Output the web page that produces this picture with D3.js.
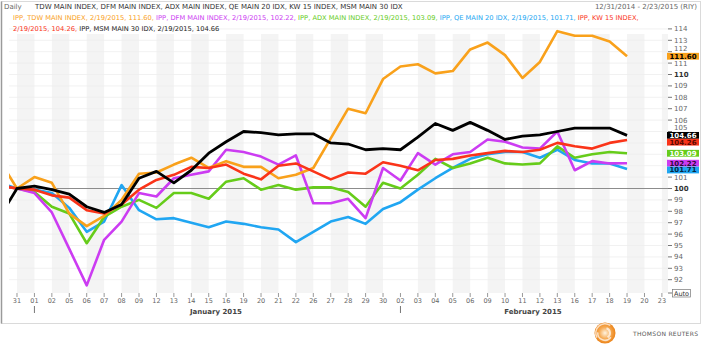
<!DOCTYPE html>
<html>
<head>
<meta charset="utf-8">
<script src="https://cdn.jsdelivr.net/npm/d3@7"></script>
<style>
  body { margin: 0; background: #fff; }
  svg { display: block; font-family: "DejaVu Sans", Verdana, sans-serif; }
</style>
</head>
<body>
<div id="chart"></div>
<script>
// Data: trading days (first one sits just left of the plot), index values rebased to 31 Dec = 100
const dates = ["2014-12-30", "2014-12-31",
    "2015-01-01", "2015-01-02", "2015-01-05", "2015-01-06", "2015-01-07", "2015-01-08", "2015-01-09",
    "2015-01-12", "2015-01-13", "2015-01-14", "2015-01-15", "2015-01-16", "2015-01-19", "2015-01-20",
    "2015-01-21", "2015-01-22", "2015-01-26", "2015-01-27", "2015-01-28", "2015-01-29", "2015-01-30",
    "2015-02-02", "2015-02-03", "2015-02-04", "2015-02-05", "2015-02-06", "2015-02-09", "2015-02-10",
    "2015-02-11", "2015-02-12", "2015-02-13", "2015-02-16", "2015-02-17", "2015-02-18", "2015-02-19",
    "2015-02-20", "2015-02-23"];

const tdw = [102.5, 100, 101.0, 100.5, 97.8, 96.7, 97.6, 99.0, 101.3, 101.4, 102.1, 102.7, 101.8, 102.4,
    101.9, 101.9, 100.9, 101.2, 101.8, 104.4, 107.0, 106.6, 109.6, 110.7, 110.9, 110.1, 110.3, 112.2,
    112.8, 111.7, 109.7, 111.1, 113.8, 113.4, 113.4, 112.9, 111.60];
const dfm = [100.25, 100, 99.6, 97.9, 94.7, 91.5, 95.5, 97.1, 99.6, 99.3, 100.9, 101.2, 101.5, 103.4,
    103.2, 102.8, 102.1, 102.9, 98.7, 98.7, 99.1, 97.4, 101.8, 100.7, 103.1, 102.1, 103.0, 103.2,
    104.3, 104.1, 103.6, 103.5, 105.0, 101.6, 102.4, 102.2, 102.22];
const adx = [100.25, 100, 99.7, 98.4, 97.8, 95.2, 97.5, 98.4, 99.0, 98.3, 99.6, 99.6, 99.1, 100.6,
    100.9, 99.9, 100.3, 99.9, 100.1, 100.1, 99.7, 98.4, 100.5, 100.0, 101.2, 102.6, 101.8, 102.2,
    102.7, 102.2, 102.1, 102.2, 103.7, 102.7, 103.0, 103.2, 103.09];
const qe = [100.5, 100, 99.9, 99.6, 98.3, 96.2, 97.1, 100.3, 98.1, 97.3, 97.4, 97.0, 96.6, 97.1,
    96.9, 96.6, 96.4, 95.3, 96.2, 97.1, 97.5, 96.9, 98.2, 98.8, 99.9, 100.9, 101.8, 102.6,
    103.0, 103.2, 103.2, 102.7, 103.4, 102.5, 102.2, 102.2, 101.71];
const kw = [100.25, 100, 99.9, 99.4, 99.2, 98.1, 97.8, 98.6, 99.9, 100.75, 101.2, 101.9, 101.8, 102.1,
    101.3, 100.8, 102.0, 102.2, 101.5, 100.8, 101.4, 101.3, 102.3, 102.0, 101.6, 102.5, 102.6, 102.9,
    103.1, 103.3, 103.2, 103.4, 104.0, 103.7, 103.5, 104.0, 104.26];
const msm = [97.5, 100, 100.2, 99.9, 99.5, 98.4, 97.9, 98.6, 100.9, 101.5, 100.5, 101.6, 103.1, 104.1,
    105.0, 104.9, 104.7, 104.8, 104.8, 104.0, 103.9, 103.4, 103.5, 103.4, 104.5, 105.7, 105.1, 105.8,
    105.1, 104.3, 104.6, 104.7, 105.0, 105.3, 105.3, 105.3, 104.66];

const seriesNames = ["QE MAIN 20 IDX", "ADX MAIN INDEX", "DFM MAIN INDEX", "TDW MAIN INDEX", "KW 15 INDEX", "MSM MAIN 30 IDX"];
const seriesValues = [qe, adx, dfm, tdw, kw, msm];
const seriesColors = ["#20a6f2", "#66cc1a", "#cc3cf2", "#f9a11b", "#fa3419", "#000000"];
const labelTextColors = ["#06263f", "#ffffff", "#2e0a3c", "#000000", "#5a0a00", "#ffffff"];

const yTicks = d3.range(92, 115);
const boldTicks = [100, 110];
const months = [{ key: "2015-01", label: "January 2015" }, { key: "2015-02", label: "February 2015" }];
const headerTitle = "TDW MAIN INDEX, DFM MAIN INDEX, ADX MAIN INDEX, QE MAIN 20 IDX, KW 15 INDEX, MSM MAIN 30 IDX";
const headerRange = "12/31/2014 - 2/23/2015 (RIY)";
const lastDate = "2/19/2015";

// Dimensions
const dimensions = {
    width: 702,
    height: 351,
    plotLeft: 9,
    plotRight: 668,
    plotTop: 34,
    plotBottom: 293,
};

const svg = d3.select('#chart')
    .append('svg')
    .attr('width', dimensions.width)
    .attr('height', dimensions.height);

// Scales
const x = d3.scalePoint()
    .domain(dates)
    .range([-0.43, 661.9]);

const y = d3.scaleLinear()
    .domain([92, 114])
    .range([279.7, 28.9]);

// Panel border
svg.append('rect')
    .attr('x', 1.5).attr('y', 1.5)
    .attr('width', 699).attr('height', 322)
    .attr('fill', 'none')
    .attr('stroke', '#dadada');
svg.append('line')
    .attr('x1', 1.5).attr('x2', 1.5).attr('y1', 1.5).attr('y2', 323.5)
    .attr('stroke', '#9a9a9a').attr('stroke-width', 1.5);

// Alternating day bands, restarting at each month
const firstOfMonth = {};
dates.forEach((d, i) => { const m = d.slice(0, 7); if (!(m in firstOfMonth)) firstOfMonth[m] = i; });
const bands = dates.map((d, i) => ({
    x0: x(d),
    x1: i < dates.length - 1 ? x(dates[i + 1]) : dimensions.plotRight,
    odd: (i - firstOfMonth[d.slice(0, 7)]) % 2 === 1,
})).filter(b => b.odd && b.x1 > dimensions.plotLeft);

svg.append('g')
    .selectAll('rect')
    .data(bands)
    .join('rect')
    .attr('x', d => Math.max(d.x0, dimensions.plotLeft))
    .attr('width', d => d.x1 - Math.max(d.x0, dimensions.plotLeft))
    .attr('y', dimensions.plotTop)
    .attr('height', dimensions.plotBottom - dimensions.plotTop)
    .attr('fill', '#f4f4f4');

// Horizontal grid
svg.append('g')
    .selectAll('line')
    .data(yTicks)
    .join('line')
    .attr('x1', dimensions.plotLeft)
    .attr('x2', dimensions.plotRight)
    .attr('y1', d => y(d))
    .attr('y2', d => y(d))
    .attr('stroke', '#ededed')
    .attr('stroke-width', 0.8);

// 100 reference line
svg.append('line')
    .attr('x1', dimensions.plotLeft)
    .attr('x2', dimensions.plotRight)
    .attr('y1', y(100))
    .attr('y2', y(100))
    .attr('stroke', '#8c8c8c')
    .attr('stroke-width', 1.2);

// Lines
svg.append('clipPath')
    .attr('id', 'plot-clip')
    .append('rect')
    .attr('x', dimensions.plotLeft)
    .attr('y', dimensions.plotTop - 10)
    .attr('width', dimensions.plotRight - dimensions.plotLeft)
    .attr('height', dimensions.plotBottom - dimensions.plotTop + 10);

const line = d3.line()
    .x((d, i) => x(dates[i]))
    .y(d => y(d));

svg.append('g')
    .attr('clip-path', 'url(#plot-clip)')
    .selectAll('path')
    .data(seriesValues)
    .join('path')
    .attr('d', line)
    .attr('fill', 'none')
    .attr('stroke', (d, i) => seriesColors[i])
    .attr('stroke-width', (d, i) => i === 5 ? 2.8 : 2.6)
    .attr('stroke-linejoin', 'round');

// Last value boxes, pushed apart when they collide
const boxH = 6.8;
const lastLabels = seriesValues.map((vals, i) => ({
    value: vals[vals.length - 1],
    color: seriesColors[i],
    textColor: labelTextColors[i],
    cy: y(vals[vals.length - 1]),
})).sort((a, b) => a.cy - b.cy);
let prevBottom = -Infinity;
lastLabels.forEach(d => {
    d.top = Math.max(d.cy - boxH / 2, prevBottom);
    prevBottom = d.top + boxH;
});

// Right axis: labels hidden behind a value box are left out, ones just above a box are nudged up
const covered = v => lastLabels.some(b => y(v) > b.top && y(v) < b.top + boxH);
const labelY = v => {
    let base = y(v) + 2.5;
    lastLabels.forEach(b => {
        if (y(v) <= b.top && base + 1.8 > b.top) base = b.top - 1.8;
    });
    return base;
};
const yAxis = svg.append('g').attr('font-size', 7);
yAxis.selectAll('line')
    .data(yTicks)
    .join('line')
    .attr('x1', 668).attr('x2', 672)
    .attr('y1', d => y(d)).attr('y2', d => y(d))
    .attr('stroke', '#777');
yAxis.selectAll('text')
    .data(yTicks.filter(v => !covered(v)))
    .join('text')
    .attr('x', 674)
    .attr('y', d => labelY(d))
    .attr('fill', d => boldTicks.includes(d) ? '#333' : '#666')
    .attr('font-weight', d => boldTicks.includes(d) ? 'bold' : 'normal')
    .text(d => d);

const boxes = svg.append('g')
    .selectAll('g')
    .data(lastLabels)
    .join('g')
    .attr('transform', d => `translate(667, ${d.top})`);
boxes.append('rect')
    .attr('width', 32)
    .attr('height', boxH)
    .attr('fill', d => d.color);
boxes.append('text')
    .attr('x', 16)
    .attr('y', boxH - 1)
    .attr('text-anchor', 'middle')
    .attr('font-size', 7)
    .attr('font-weight', 'bold')
    .attr('fill', d => d.textColor)
    .text(d => d.value.toFixed(2));

// Auto button
svg.append('rect')
    .attr('x', 672.5).attr('y', 289.5)
    .attr('width', 18).attr('height', 7.5)
    .attr('fill', '#fff')
    .attr('stroke', '#777').attr('stroke-width', 0.7);
svg.append('line')
    .attr('x1', 668).attr('x2', 672).attr('y1', 293).attr('y2', 293)
    .attr('stroke', '#777');
svg.append('text')
    .attr('x', 681.5).attr('y', 295.5)
    .attr('text-anchor', 'middle')
    .attr('font-size', 6.5)
    .attr('fill', '#333')
    .text('Auto');

// X axis
const visibleDates = dates.filter(d => x(d) > dimensions.plotLeft);
const xAxis = svg.append('g');
xAxis.selectAll('line')
    .data(visibleDates)
    .join('line')
    .attr('x1', d => x(d)).attr('x2', d => x(d))
    .attr('y1', 293).attr('y2', 297)
    .attr('stroke', '#999');
xAxis.selectAll('text')
    .data(visibleDates)
    .join('text')
    .attr('x', d => x(d))
    .attr('y', 303)
    .attr('text-anchor', 'middle')
    .attr('font-size', 6.5)
    .attr('fill', '#666')
    .text(d => d.slice(8));

// Month markers and names
const monthInfo = months.map(m => {
    const ds = dates.filter(d => d.startsWith(m.key));
    return { label: m.label, start: x(ds[0]) };
});
svg.append('g')
    .selectAll('line')
    .data(monthInfo)
    .join('line')
    .attr('x1', d => d.start).attr('x2', d => d.start)
    .attr('y1', 306).attr('y2', 313)
    .attr('stroke', '#777');
svg.append('g')
    .selectAll('text')
    .data(monthInfo)
    .join('text')
    .attr('x', (d, i) => i === 0 ? 216 : 533)
    .attr('y', 314)
    .attr('text-anchor', 'middle')
    .attr('font-size', 7)
    .attr('font-weight', 'bold')
    .attr('fill', '#444')
    .text(d => d.label);

// Header
const header = svg.append('g');
header.append('text')
    .attr('x', 4).attr('y', 9)
    .attr('font-size', 7)
    .attr('fill', '#666')
    .text('Daily');
header.append('text')
    .attr('x', 35).attr('y', 9)
    .attr('font-size', 7)
    .attr('fill', '#333')
    .text(headerTitle);
header.append('text')
    .attr('x', 697).attr('y', 9)
    .attr('text-anchor', 'end')
    .attr('font-size', 7)
    .attr('fill', '#666')
    .text(headerRange);

const legendOrder = [3, 2, 1, 0, 4, 5];
const legendParts = legendOrder.map((si, k) => {
    const vals = seriesValues[si];
    const tail = k < legendOrder.length - 1 ? ',' : '';
    const last = vals[vals.length - 1].toFixed(2);
    return {
        color: seriesColors[si] === '#000000' ? '#222' : seriesColors[si],
        first: `IPP, ${seriesNames[si]},` + (si === 4 ? '' : ` ${lastDate}, ${last}${tail}`),
        second: si === 4 ? `${lastDate}, ${last}, ` : null,
        onThirdLine: si === 5,
    };
});

const line2 = header.append('text').attr('x', 13).attr('y', 20).attr('font-size', 6.7).attr('xml:space', 'preserve');
const line3 = header.append('text').attr('x', 13).attr('y', 31).attr('font-size', 6.7).attr('xml:space', 'preserve');
legendParts.forEach(p => {
    if (p.onThirdLine) {
        line3.append('tspan').attr('fill', p.color).text(p.first);
    } else {
        line2.append('tspan').attr('fill', p.color).text(p.first + ' ');
        if (p.second) line3.append('tspan').attr('fill', p.color).text(p.second);
    }
});

// Thomson Reuters mark
const grad = svg.append('defs').append('radialGradient').attr('id', 'logo-grad');
grad.append('stop').attr('offset', '0%').attr('stop-color', '#fff3e0');
grad.append('stop').attr('offset', '55%').attr('stop-color', '#f6ab55');
grad.append('stop').attr('offset', '100%').attr('stop-color', '#ec8419');
const logo = svg.append('g').attr('transform', 'translate(605, 333)');
logo.append('circle').attr('r', 10.5).attr('fill', 'url(#logo-grad)');
const swirl = d3.arc();
[[4, 6, 0.3, 2.6], [6.5, 8, 2.2, 4.8], [8.5, 10, 4.2, 6.9]].forEach(([r0, r1, a0, a1]) => {
    logo.append('path')
        .attr('d', swirl({ innerRadius: r0, outerRadius: r1, startAngle: a0, endAngle: a1 }))
        .attr('fill', '#fff')
        .attr('opacity', 0.7);
});
svg.append('text')
    .attr('x', 633).attr('y', 335.5)
    .attr('font-size', 6)
    .attr('fill', '#555')
    .attr('letter-spacing', 0.3)
    .text('THOMSON REUTERS');
</script>
</body>
</html>
